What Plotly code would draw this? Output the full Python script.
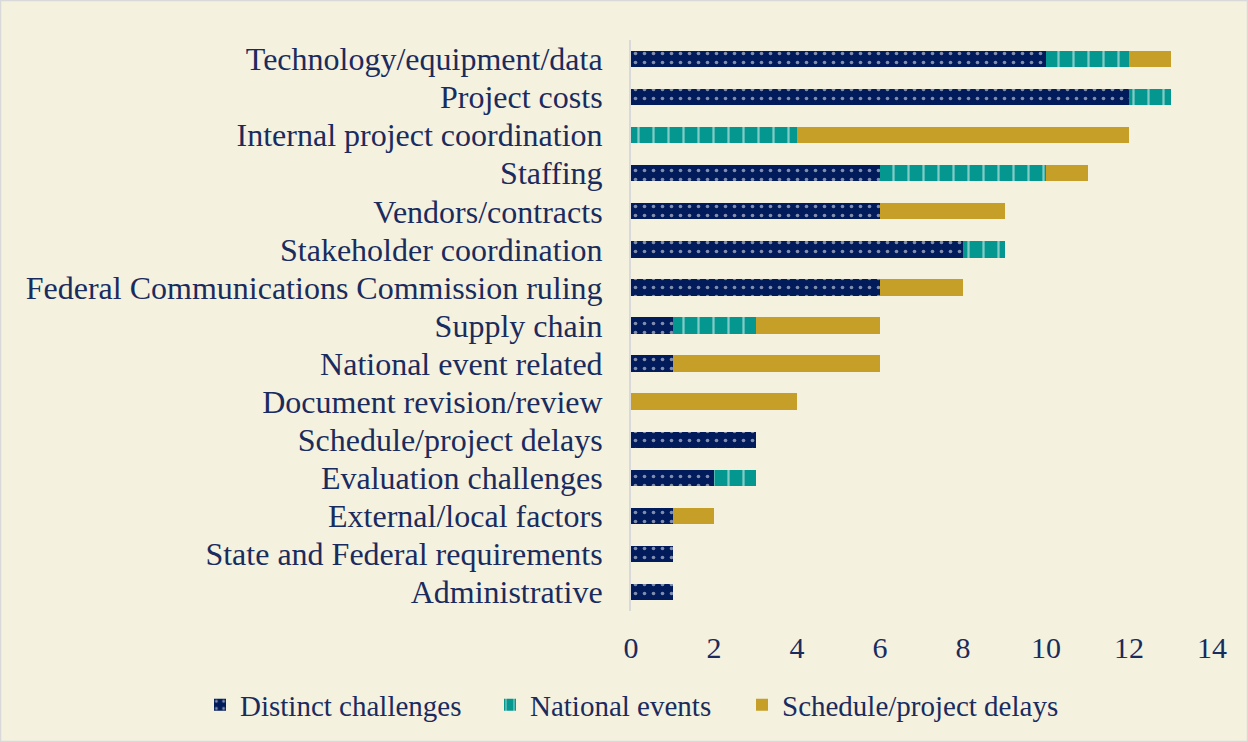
import plotly.graph_objects as go

categories = [
    "Technology/equipment/data", "Project costs", "Internal project coordination",
    "Staffing", "Vendors/contracts", "Stakeholder coordination",
    "Federal Communications Commission ruling", "Supply chain",
    "National event related", "Document revision/review",
    "Schedule/project delays", "Evaluation challenges",
    "External/local factors", "State and Federal requirements", "Administrative",
]
distinct = [10, 12, 0, 6, 6, 8, 6, 1, 1, 0, 3, 2, 1, 1, 1]
national = [2, 1, 4, 4, 0, 1, 0, 2, 0, 0, 0, 1, 0, 0, 0]
delays = [1, 0, 8, 1, 3, 0, 2, 3, 5, 4, 0, 0, 1, 0, 0]
x_ticks = [0, 2, 4, 6, 8, 10, 12, 14]

NAVY = "#021C5B"
TEAL = "#04978F"
GOLD = "#C69F28"
BG = "#F4F1DF"
TXT = "#1A2B5E"
FONT = "Liberation Serif"

fig = go.Figure()
fig.add_trace(go.Bar(
    y=categories, x=distinct, orientation="h", name="Distinct challenges", legend="legend",
    marker=dict(color=NAVY, line=dict(width=0),
                pattern=dict(shape=".", fgcolor="white", bgcolor=NAVY, size=9, solidity=0.13)),
))
fig.add_trace(go.Bar(
    y=categories, x=national, orientation="h", name="National events", legend="legend2",
    marker=dict(color=TEAL, line=dict(width=0),
                pattern=dict(shape="|", fgcolor="white", bgcolor=TEAL, size=15, solidity=0.15)),
))
fig.add_trace(go.Bar(
    y=categories, x=delays, orientation="h", name="Schedule/project delays", legend="legend3",
    marker=dict(color=GOLD, line=dict(width=0)),
))

leg_common = dict(orientation="h", xanchor="left", y=-0.12, yanchor="top",
                  font=dict(size=29, color=TXT), itemwidth=30,
                  bgcolor="rgba(0,0,0,0)")

fig.update_layout(
    barmode="stack",
    bargap=0.57,
    width=1248, height=742,
    paper_bgcolor=BG, plot_bgcolor=BG,
    font=dict(family=FONT, size=32, color=TXT),
    margin=dict(l=631, r=36, t=40, b=131, autoexpand=False),
    showlegend=True,
    legend=dict(x=(200 - 631) / 581, **leg_common),
    legend2=dict(x=(490 - 631) / 581, **leg_common),
    legend3=dict(x=(742 - 631) / 581, **leg_common),
    xaxis=dict(range=[0, 14], tickvals=x_ticks, showgrid=False, zeroline=False,
               ticks="outside", ticklen=10, tickcolor=BG, tickfont=dict(size=30, color=TXT),
               fixedrange=True),
    yaxis=dict(autorange="reversed", showgrid=False, showline=True, linecolor="#D9D9D9",
               linewidth=2, ticks="", ticklabelstandoff=20, tickfont=dict(size=32, color=TXT)),
    shapes=[dict(type="rect", xref="paper", yref="paper",
                 x0=-630.5/581, x1=1+35.5/581, y0=-130.5/571, y1=1+39.5/571,
                 line=dict(color="#D9D9D9", width=1.5), layer="below")],
)

fig.write_html("out.html", config={"displayModeBar": False},
               post_script="document.body.style.margin='0';document.body.style.overflow='hidden';")
